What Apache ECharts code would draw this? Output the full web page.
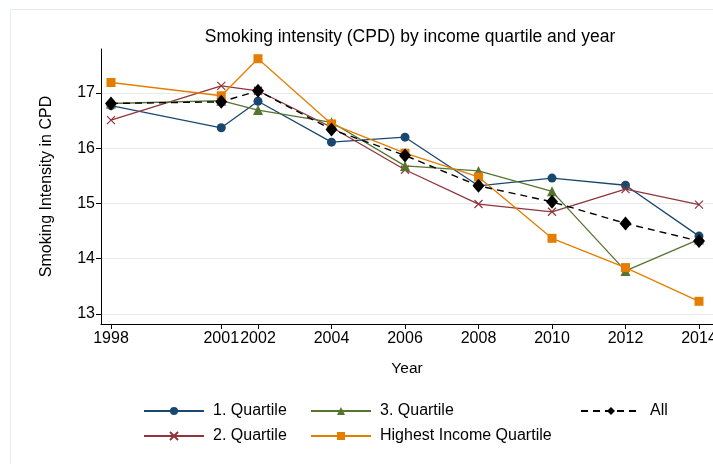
<!DOCTYPE html>
<html>
<head>
<meta charset="utf-8">
<script src="https://cdn.jsdelivr.net/npm/echarts@6/dist/echarts.min.js"></script>
<style>html,body{margin:0;padding:0;background:#fff;}#c{width:713px;height:464px;}</style>
</head>
<body>
<div id="c"></div>
<script>
var years = [1998, 2001, 2002, 2004, 2006, 2008, 2010, 2012, 2014];
var yTicks = [13, 14, 15, 16, 17];
var q1 = [16.77, 16.37, 16.85, 16.11, 16.20, 15.32, 15.46, 15.33, 14.41];
var q2 = [16.51, 17.13, 17.04, 16.38, 15.61, 14.99, 14.85, 15.26, 14.98];
var q3 = [16.81, 16.86, 16.69, 16.47, 15.68, 15.59, 15.22, 13.78, 14.35];
var q4 = [17.19, 16.95, 17.62, 16.44, 15.91, 15.48, 14.37, 13.84, 13.23];
var all = [16.81, 16.84, 17.04, 16.34, 15.87, 15.32, 15.03, 14.64, 14.32];
var names = ['1. Quartile', '2. Quartile', '3. Quartile', 'Highest Income Quartile', 'All'];

function pairs(v) { return years.map(function (y, i) { return [y, v[i]]; }); }

var font = 'Liberation Sans, Arial, Helvetica, sans-serif';
var chart = echarts.init(document.getElementById('c'), null, {renderer: 'canvas'});

function leg(name, left, top) {
  return {
    data: [name], left: left, top: top, orient: 'horizontal', padding: 0,
    itemWidth: 60, itemHeight: 10, selectedMode: false,
    textStyle: {fontFamily: font, fontSize: 16, color: '#000', padding: [0, 0, 0, 4]}
  };
}

var option = {
  animation: false,
  backgroundColor: '#fff',
  graphic: [{
    type: 'rect', shape: {x: 10.5, y: 9.5, width: 720, height: 470},
    style: {fill: 'none', stroke: '#e3ebee', lineWidth: 1}, silent: true, z: -10
  }],
  title: {
    text: 'Smoking intensity (CPD) by income quartile and year',
    left: 405, top: 23, textAlign: 'center',
    textStyle: {fontFamily: font, fontSize: 17.5, fontWeight: 'normal', color: '#000'}
  },
  legend: [
    leg(names[0], 143, 403),
    leg(names[2], 310, 403),
    leg(names[4], 580, 403),
    leg(names[1], 143, 428),
    leg(names[3], 310, 428)
  ],
  grid: {left: 101, right: 0, top: 49, bottom: 140, containLabel: false, outerBoundsMode: 'none'},
  xAxis: {
    type: 'value', min: 1997.728, max: 2014.381,
    name: 'Year', nameLocation: 'middle', nameGap: 37,
    nameTextStyle: {fontFamily: font, fontSize: 15.5, color: '#000'},
    axisLine: {show: true, lineStyle: {color: '#000', width: 1}},
    axisTick: {show: true, length: 5, customValues: years, lineStyle: {color: '#000'}},
    axisLabel: {customValues: years, fontFamily: font, fontSize: 16, color: '#000', margin: 7,
      hideOverlap: false, formatter: function (v) { return String(v); }},
    splitLine: {show: false}
  },
  yAxis: {
    type: 'value', min: 12.819, max: 17.796,
    name: 'Smoking Intensity in CPD', nameLocation: 'middle', nameGap: 46,
    nameTextStyle: {fontFamily: font, fontSize: 16, color: '#000'},
    axisLine: {show: true, lineStyle: {color: '#000', width: 1}},
    axisTick: {show: true, length: 5, customValues: yTicks, lineStyle: {color: '#000'}},
    axisLabel: {customValues: yTicks, fontFamily: font, fontSize: 16, color: '#000', margin: 6},
    splitLine: {show: true, lineStyle: {color: '#eaeaea', width: 1}}
  },
  series: [
    {name: names[0], type: 'line', data: pairs(q1), symbol: 'circle', symbolSize: 9,
      color: '#1a476f', lineStyle: {width: 1.3, color: '#1a476f'}, itemStyle: {color: '#1a476f'}},
    {name: names[1], type: 'line', data: pairs(q2), symbol: 'path://M0,0L10,10M10,0L0,10', symbolSize: 8,
      color: '#90353b', lineStyle: {width: 1.3, color: '#90353b'},
      itemStyle: {color: '#90353b', borderColor: '#90353b', borderWidth: 1.2}},
    {name: names[2], type: 'line', data: pairs(q3), symbol: 'triangle', symbolSize: 10,
      color: '#55752f', lineStyle: {width: 1.3, color: '#55752f'}, itemStyle: {color: '#55752f'}},
    {name: names[3], type: 'line', data: pairs(q4), symbol: 'rect', symbolSize: 9,
      color: '#e37e00', lineStyle: {width: 1.3, color: '#e37e00'}, itemStyle: {color: '#e37e00'}},
    {name: names[4], type: 'line', data: pairs(all), symbol: 'diamond', symbolSize: [12, 14],
      color: '#000', lineStyle: {width: 1.4, color: '#000', type: [7, 5]}, itemStyle: {color: '#000'}, z: 5}
  ]
};
chart.setOption(option);
</script>
</body>
</html>
